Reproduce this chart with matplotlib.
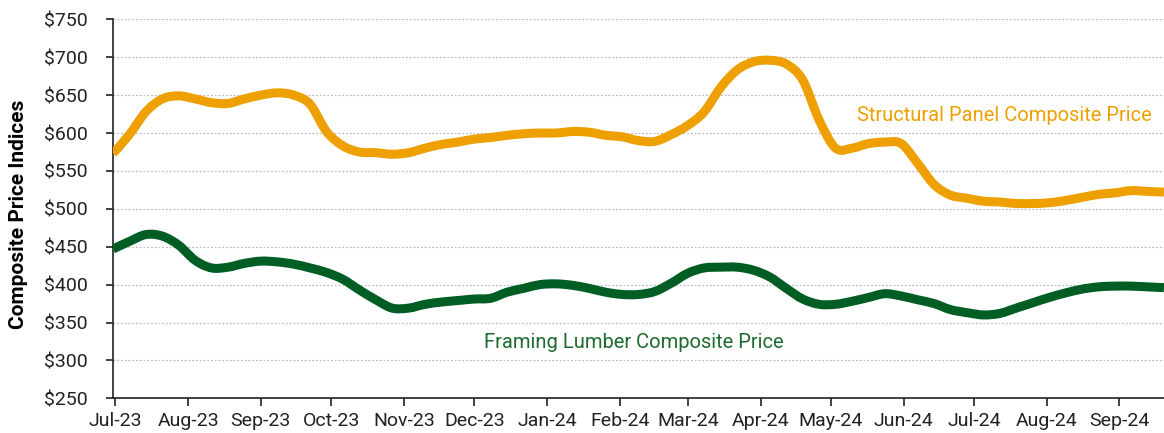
import matplotlib
matplotlib.use("Agg")
import matplotlib.pyplot as plt
import matplotlib.dates as mdates
import matplotlib.ticker as mticker
from matplotlib.path import Path
from matplotlib.patches import PathPatch
import numpy as np
import pandas as pd

plt.rcParams['font.family'] = ['Roboto', 'DejaVu Sans']

dates = pd.date_range('2023-06-30', '2024-09-20', freq='7D')

structural_panel = [573, 598, 628, 645, 649, 645, 640, 639, 645, 650,
                    653, 650, 638, 602, 583, 575, 574, 572, 574, 580,
                    585, 588, 592, 594, 597, 599, 600, 600, 602, 601,
                    597, 595, 590, 589, 598, 610, 628, 660, 683, 694,
                    696, 691, 670, 617, 580, 580, 586, 588, 586, 560,
                    532, 518, 514, 510, 509, 507, 507, 508, 511, 515,
                    519, 521, 524, 523, 522]

framing_lumber = [447, 457, 466, 464, 452, 432, 422, 423, 428, 431,
                  430, 427, 422, 416, 407, 393, 380, 369, 369, 374,
                  377, 379, 381, 382, 390, 395, 400, 401, 399, 395,
                  390, 387, 387, 391, 402, 415, 422, 423, 423, 419,
                  410, 395, 381, 374, 374, 378, 383, 388, 385, 380,
                  375, 367, 363, 360, 362, 369, 376, 383, 389, 394,
                  397, 398, 398, 397, 396]

y_ticks = [250, 300, 350, 400, 450, 500, 550, 600, 650, 700, 750]

orange = '#EDA000'
green = '#005E24'


def smooth_path(xs, ys):
    """Bezier path passing through every data point (like a smoothed line)."""
    xs = np.asarray(xs, float)
    ys = np.asarray(ys, float)
    n = len(xs)
    verts = [(xs[0], ys[0])]
    codes = [Path.MOVETO]
    for i in range(n - 1):
        p0 = (xs[max(i - 1, 0)], ys[max(i - 1, 0)])
        p1 = (xs[i], ys[i])
        p2 = (xs[i + 1], ys[i + 1])
        p3 = (xs[min(i + 2, n - 1)], ys[min(i + 2, n - 1)])
        c1 = (p1[0] + (p2[0] - p0[0]) / 6, p1[1] + (p2[1] - p0[1]) / 6)
        c2 = (p2[0] - (p3[0] - p1[0]) / 6, p2[1] - (p3[1] - p1[1]) / 6)
        verts += [c1, c2, p2]
        codes += [Path.CURVE4] * 3
    return Path(verts, codes)


fig = plt.figure(figsize=(11.64, 4.33), dpi=100)
ax = fig.add_axes([0.0971, 0.0801, 0.9029, 0.8753])

xnum = mdates.date2num(dates)
for vals, col in [(structural_panel, orange), (framing_lumber, green)]:
    patch = PathPatch(smooth_path(xnum, vals), fill=False, edgecolor=col,
                      lw=6.5, joinstyle='round', capstyle='butt', zorder=3)
    ax.add_patch(patch)

ax.set_ylim(250, 750)
ax.set_xlim(dates[0], dates[-1])
ax.set_yticks(y_ticks)
ax.yaxis.set_major_formatter(mticker.FuncFormatter(lambda v, p: f'${v:,.0f}'))
ax.xaxis.set_major_locator(mdates.MonthLocator())
ax.xaxis.set_major_formatter(mdates.DateFormatter('%b-%y'))

ax.grid(axis='y', color='#BBBBBB', linestyle=(0, (1.5, 1.5)), lw=0.9, zorder=0)
for s in ['top', 'right']:
    ax.spines[s].set_visible(False)
ax.spines['left'].set_color('#222222')
ax.spines['bottom'].set_color('#222222')
ax.spines['left'].set_linewidth(1.2)
ax.spines['bottom'].set_linewidth(1.2)
ax.tick_params(axis='both', labelsize=14, colors='#222222', length=6, width=1.2)
ax.tick_params(axis='y', pad=13, length=5)
ax.tick_params(axis='x', pad=4)
ax.set_ylabel('Composite Price Indices', fontsize=15, fontweight='bold',
              color='black')
ax.yaxis.set_label_coords(-0.081, 0.485)

ax.text(pd.Timestamp('2024-05-12'), 623, 'Structural Panel Composite Price',
        color=orange, fontsize=14.5, va='center', ha='left')
ax.text(pd.Timestamp('2023-12-05'), 323, 'Framing Lumber Composite Price',
        color='#1E6B2E', fontsize=14.5, va='center', ha='left')

fig.savefig('out.png', dpi=100)
